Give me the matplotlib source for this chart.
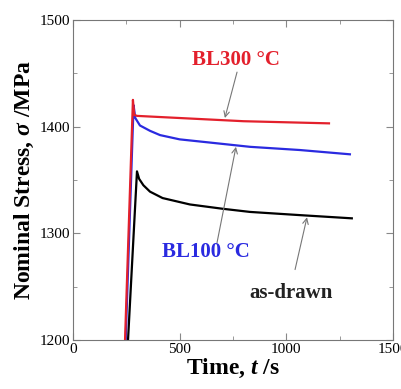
import matplotlib.pyplot as plt
from matplotlib.ticker import MultipleLocator

# data (time in s, stress in MPa)
t_bl300 = [244, 281, 287, 300, 400, 600, 800, 1000, 1200]
s_bl300 = [1200, 1425, 1411, 1410, 1409, 1407, 1405, 1404, 1403]

t_bl100 = [247, 284, 292, 314, 361, 408, 500, 642, 830, 1064, 1298]
s_bl100 = [1200, 1420, 1408, 1401, 1396, 1392, 1388, 1385, 1381, 1378, 1374]

t_drawn = [258, 300, 310, 330, 361, 420, 548, 700, 830, 1064, 1307]
s_drawn = [1200, 1358, 1351, 1345, 1339, 1333, 1327, 1323, 1320, 1317, 1314]

plt.rcParams['font.family'] = ['Liberation Serif', 'DejaVu Serif']
plt.rcParams['mathtext.fontset'] = 'custom'
plt.rcParams['mathtext.it'] = 'Liberation Serif:italic:bold'
plt.rcParams['mathtext.rm'] = 'Liberation Serif:bold'

fig = plt.figure(figsize=(4.01, 3.89), dpi=100)
ax = fig.add_axes([0.182, 0.126, 0.798, 0.823])

ax.plot(t_drawn, s_drawn, color='black', lw=1.6)
ax.plot(t_bl100, s_bl100, color='#2a2ae0', lw=1.6)
ax.plot(t_bl300, s_bl300, color='#e3202c', lw=1.6)

ax.set_xlim(0, 1500)
ax.set_ylim(1200, 1500)
ax.xaxis.set_major_locator(MultipleLocator(500))
ax.xaxis.set_minor_locator(MultipleLocator(250))
ax.yaxis.set_major_locator(MultipleLocator(100))
ax.yaxis.set_minor_locator(MultipleLocator(50))
ax.tick_params(which='both', direction='in', top=True, right=True,
               labelsize=11, color='#888888', pad=2)
ax.tick_params(which='major', length=5)
ax.tick_params(which='minor', length=3)
for sp in ax.spines.values():
    sp.set_color('#777777')
    sp.set_linewidth(0.8)

ax.set_xlabel(r'Time, $t$ /s', fontsize=17, fontweight='bold', labelpad=1)
ax.set_ylabel(r'Nominal Stress, $\sigma$ /MPa', fontsize=17, fontweight='bold', labelpad=3)

arrow = dict(arrowstyle='->', color='#777777', lw=0.8, shrinkA=0, shrinkB=0)
ax.text(764, 1462, 'BL300 °C', fontsize=15, fontweight='bold',
        color='#e3202c', ha='center', va='center')
ax.annotate('', xy=(712, 1408), xytext=(769, 1451), arrowprops=arrow)
ax.text(623, 1282, 'BL100 °C', fontsize=15, fontweight='bold',
        color='#2a2ae0', ha='center', va='center')
ax.annotate('', xy=(764, 1381), xytext=(675, 1291), arrowprops=arrow)
ax.text(1021, 1244, 'as-drawn', fontsize=15, fontweight='bold',
        color='#222222', ha='center', va='center')
ax.annotate('', xy=(1097, 1315), xytext=(1041, 1266), arrowprops=arrow)

fig.savefig('out.png', dpi=100)
